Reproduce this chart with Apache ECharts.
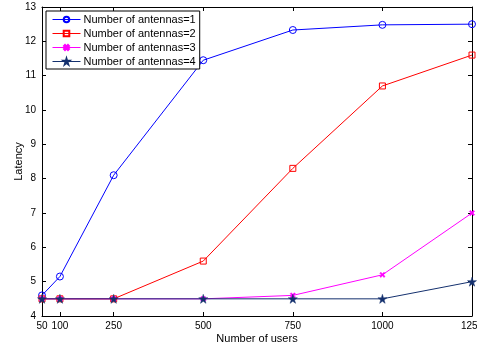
<!DOCTYPE html>
<html>
<head>
<meta charset="utf-8">
<script src="https://cdn.jsdelivr.net/npm/echarts@6/dist/echarts.min.js"></script>
<style>
html, body { margin: 0; padding: 0; background: #fff; }
#main { width: 477px; height: 345px; }
</style>
</head>
<body>
<div id="main"></div>
<script>
// 横轴用户数
var users = [50, 100, 250, 500, 750, 1000, 1250];
var seriesNames = ['Number of antennas=1', 'Number of antennas=2', 'Number of antennas=3', 'Number of antennas=4'];
var ant1 = [4.6, 5.15, 8.1, 11.45, 12.33, 12.48, 12.5];
var ant2 = [4.5, 4.5, 4.5, 5.6, 8.3, 10.7, 11.6];
var ant3 = [4.5, 4.5, 4.5, 4.5, 4.6, 5.2, 7.0];
var ant4 = [4.5, 4.5, 4.5, 4.5, 4.5, 4.5, 5.0];
var colors = ['#0000ff', '#ff0000', '#ff00ff', '#14306e'];

var starPath = 'path://M50,0L61,35L98,35L68,57L79,91L50,70L21,91L32,57L2,35L39,35Z';
var plusPath = 'path://M-1,-4L1,-4L1,-1L4,-1L4,1L1,1L1,4L-1,4L-1,1L-4,1L-4,-1L-1,-1Z';

function pairs(vals) {
	return users.map(function(u, i) { return [u, vals[i]]; });
}

var chart = echarts.init(document.getElementById('main'));

var fontFam = 'Liberation Sans, Arial, sans-serif';

var option = {
	animation: false,
	textStyle: { fontFamily: fontFam },
	grid: { left: 42, right: 5, top: 7, bottom: 29, containLabel: false, outerBoundsMode: 'none' },
	legend: {
		orient: 'vertical',
		left: 46,
		top: 11,
		padding: [3, 4, 2, 6],
		itemGap: 3,
		itemWidth: 28,
		itemHeight: 7,
		borderColor: '#000',
		borderWidth: 1,
		backgroundColor: '#fff',
		textStyle: { fontSize: 11, color: '#000', fontFamily: fontFam, padding: [0, 0, 0, -2] },
		data: seriesNames.map(function(n, i) {
			return { name: n, lineStyle: { color: colors[i], width: 1 } };
		})
	},
	xAxis: [{
		type: 'value',
		min: 50,
		max: 1250,
		name: 'Number of users',
		nameLocation: 'middle',
		nameGap: 17,
		nameMoveOverlap: false,
		nameTextStyle: { fontSize: 11, color: '#000' },
		axisLine: { lineStyle: { color: '#000', width: 1 } },
		axisTick: { inside: true, length: 4, customValues: users, lineStyle: { color: '#000' } },
		axisLabel: { customValues: users, fontSize: 10, color: '#000', margin: 5, formatter: function(v) { return String(v); } },
		splitLine: { show: false }
	}, {
		type: 'value',
		position: 'top',
		min: 50,
		max: 1250,
		axisLine: { lineStyle: { color: '#000', width: 1 } },
		axisTick: { inside: true, length: 4, customValues: users, lineStyle: { color: '#000' } },
		axisLabel: { show: false },
		splitLine: { show: false }
	}],
	yAxis: [{
		type: 'value',
		min: 4,
		max: 13,
		interval: 1,
		name: 'Latency',
		nameLocation: 'middle',
		nameGap: 18,
		nameMoveOverlap: false,
		nameTextStyle: { fontSize: 11, color: '#000' },
		axisLine: { show: true, lineStyle: { color: '#000', width: 1 } },
		axisTick: { inside: true, length: 4, lineStyle: { color: '#000' } },
		axisLabel: { fontSize: 10, color: '#000', margin: 6 },
		splitLine: { show: false }
	}, {
		type: 'value',
		position: 'right',
		min: 4,
		max: 13,
		interval: 1,
		axisLine: { show: true, lineStyle: { color: '#000', width: 1 } },
		axisTick: { inside: true, length: 4, lineStyle: { color: '#000' } },
		axisLabel: { show: false },
		splitLine: { show: false }
	}],
	series: [{
		name: seriesNames[0],
		type: 'line',
		data: pairs(ant1),
		symbol: 'circle',
		symbolSize: 7,
		color: colors[0],
		lineStyle: { width: 1, color: colors[0] },
		itemStyle: { color: 'rgba(255,255,255,0)', borderColor: colors[0], borderWidth: 1 }
	}, {
		name: seriesNames[1],
		type: 'line',
		data: pairs(ant2),
		symbol: 'rect',
		symbolSize: 6,
		color: colors[1],
		lineStyle: { width: 1, color: colors[1] },
		itemStyle: { color: 'rgba(255,255,255,0)', borderColor: colors[1], borderWidth: 1 }
	}, {
		name: seriesNames[2],
		type: 'line',
		data: pairs(ant3),
		symbol: plusPath,
		symbolSize: 6,
		symbolRotate: 45,
		color: colors[2],
		lineStyle: { width: 1, color: colors[2] },
		itemStyle: { color: colors[2], borderColor: colors[2], borderWidth: 0.5 }
	}, {
		name: seriesNames[3],
		type: 'line',
		data: pairs(ant4),
		symbol: starPath,
		symbolSize: 9,
		color: colors[3],
		lineStyle: { width: 1, color: colors[3] },
		itemStyle: { color: colors[3], borderColor: colors[3], borderWidth: 0.5 }
	}]
};

chart.setOption(option);
</script>
</body>
</html>
